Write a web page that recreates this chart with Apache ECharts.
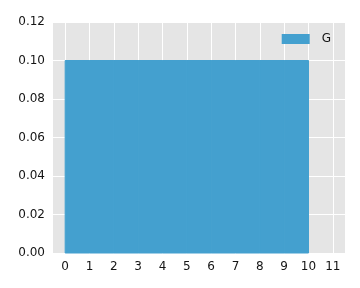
<!DOCTYPE html>
<html>
<head>
<meta charset="utf-8">
<script src="https://cdn.jsdelivr.net/npm/echarts@6/dist/echarts.min.js"></script>
<style>html,body{margin:0;padding:0;background:#fff}#c{width:360px;height:288px}</style>
</head>
<body>
<div id="c"></div>
<script>
const binEdges = [0, 1, 2, 3, 4, 5, 6, 7, 8, 9, 10];
const density = [0.1, 0.1, 0.1, 0.1, 0.1, 0.1, 0.1, 0.1, 0.1, 0.1];
const seriesName = 'G';
const xTicks = [0, 1, 2, 3, 4, 5, 6, 7, 8, 9, 10, 11];
const yTicks = [0, 0.02, 0.04, 0.06, 0.08, 0.10, 0.12];

const data = density.map((d, i) => [binEdges[i], binEdges[i + 1], d]);
const barColor = '#44A0CF';
const textColor = '#141414';
const chart = echarts.init(document.getElementById('c'), null, {renderer: 'canvas'});
chart.setOption({
  animation: false,
  backgroundColor: '#fff',
  textStyle: {fontFamily: 'DejaVu Sans'},
  grid: {left: 53, top: 22, right: 15, bottom: 35, show: true, backgroundColor: '#E5E5E5', borderWidth: 0},
  legend: {
    show: true, right: 24, top: 28, itemWidth: 28, itemHeight: 10, itemGap: 12,
    icon: 'rect',
    textStyle: {fontFamily: 'DejaVu Sans', fontSize: 12, color: textColor, padding: [0, 0, 0, 7]},
    data: [{name: seriesName, itemStyle: {color: barColor}}]
  },
  xAxis: {
    type: 'value', min: -0.5, max: 11.5,
    axisLine: {show: false},
    axisTick: {show: false, customValues: xTicks},
    splitLine: {show: true, lineStyle: {color: '#fff', width: 1}},
    axisLabel: {
      fontFamily: 'DejaVu Sans', fontSize: 12, color: textColor, margin: 8,
      customValues: xTicks,
      formatter: v => String(v)
    }
  },
  yAxis: {
    type: 'value', min: yTicks[0], max: yTicks[yTicks.length - 1], interval: 0.02,
    axisLine: {show: false}, axisTick: {show: false},
    splitLine: {show: true, lineStyle: {color: '#fff', width: 1}},
    axisLabel: {fontFamily: 'DejaVu Sans', fontSize: 12, color: textColor, margin: 8, formatter: v => v.toFixed(2)}
  },
  series: [{
    name: seriesName,
    type: 'custom',
    itemStyle: {color: barColor},
    renderItem: function (params, api) {
      const x0 = api.value(0), x1 = api.value(1), h = api.value(2);
      const p0 = api.coord([x0, h]);
      const p1 = api.coord([x1, 0]);
      return {
        type: 'rect',
        shape: {x: p0[0], y: p0[1], width: p1[0] - p0[0], height: p1[1] - p0[1]},
        style: {fill: barColor, stroke: barColor, lineWidth: 1}
      };
    },
    encode: {x: [0, 1], y: 2},
    data: data
  }]
});
</script>
</body>
</html>
